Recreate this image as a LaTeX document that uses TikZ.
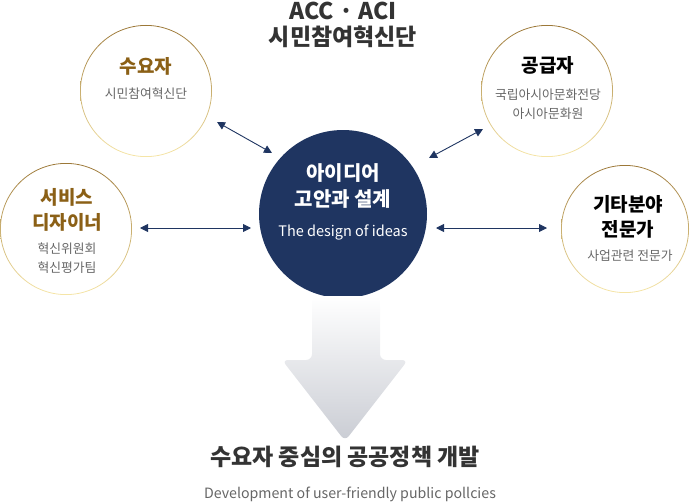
\documentclass[tikz,border=0pt]{standalone}
\usepackage{fontspec}
\setmainfont{Noto Sans CJK KR}
\usetikzlibrary{arrows.meta,positioning}
\definecolor{navy}{RGB}{31,53,97}
\definecolor{golddark}{RGB}{156,120,56}
\definecolor{goldlight}{RGB}{246,230,168}
\definecolor{goldtext}{RGB}{139,96,22}
\definecolor{subgray}{RGB}{102,102,102}
\definecolor{titlegray}{RGB}{51,51,51}
\definecolor{arrowgray}{RGB}{196,199,207}

\begin{document}
\begin{tikzpicture}[x=1pt,y=1pt,
    ring/.style={even odd rule,top color=golddark,bottom color=goldlight},
    headtext/.style={font=\fontsize{19}{25}\selectfont\bfseries,align=center},
    subtext/.style={font=\fontsize{12.8}{18.5}\selectfont,text=subgray,align=center},
    link/.style={navy,line width=0.9pt,{Triangle[width=8pt,length=8pt]}-{Triangle[width=8pt,length=8pt]}}]
    \useasboundingbox (0,0) rectangle (693,-503);

    % title
    \node[font=\fontsize{23}{26}\selectfont\bfseries,text=titlegray,align=center] (title) at (343,-25) {ACC · ACI\\시민참여혁신단};

    % outer circles
    \coordinate (demand) at (146,-91);
    \coordinate (supply) at (547,-91);
    \coordinate (service) at (66,-229);
    \coordinate (expert) at (625,-229);
    \shade[ring] (demand) circle (66) circle (65.2);
    \shade[ring] (supply) circle (66) circle (65.2);
    \shade[ring] (service) circle (66) circle (65.2);
    \shade[ring] (expert) circle (64) circle (63.2);

    \node[headtext,text=goldtext] (demand-h) at (146,-66) {수요자};
    \node[subtext] (demand-s) at (146,-94) {시민참여혁신단};
    \node[headtext,text=black] (supply-h) at (548,-65) {공급자};
    \node[subtext] (supply-s) at (548,-104) {국립아시아문화전당\\아시아문화원};
    \node[headtext,text=goldtext] (service-h) at (67,-210) {서비스\\디자이너};
    \node[subtext] (service-s) at (67,-258) {혁신위원회\\혁신평가팀};
    \node[headtext,text=black] (expert-h) at (628,-216.5) {기타분야\\전문가};
    \node[subtext] (expert-s) at (630,-256) {사업관련 전문가};

    % center circle
    \node[circle,fill=navy,minimum size=168pt,inner sep=0pt] (idea) at (343,-214) {};
    \node[font=\fontsize{20}{26.5}\selectfont\bfseries,text=white,align=center] (idea-h) at (343,-186) {아이디어\\고안과 설계};
    \node[font=\fontsize{14.5}{15}\selectfont,text=white] (idea-s) at (343,-232) {The design of ideas};

    % links
    \coordinate (demand-end) at (217,-122);
    \coordinate (idea-tl) at (272,-153);
    \coordinate (supply-end) at (483,-129);
    \coordinate (idea-tr) at (429,-158);
    \coordinate (service-end) at (140,-228);
    \coordinate (idea-l) at (251,-228);
    \coordinate (expert-end) at (547,-228);
    \coordinate (idea-r) at (436,-228);
    \draw[link] (demand-end) -- (idea-tl);
    \draw[link] (supply-end) -- (idea-tr);
    \draw[link] (service-end) -- (idea-l);
    \draw[link] (expert-end) -- (idea-r);

    % down arrow
    \shade[top color=white,middle color=arrowgray!65,bottom color=arrowgray!90,rounded corners=6]
        (312,-296) -- (312,-360) -- (282,-360) -- (345,-441) -- (408,-360) -- (380,-360) -- (380,-296) -- cycle;

    % result
    \node[font=\fontsize{23}{25}\selectfont\bfseries,text=titlegray] (result) at (345,-457) {수요자 중심의 공공정책 개발};
    \node[font=\fontsize{14.2}{15}\selectfont,text=subgray] (result-en) at (350,-494) {Development of user-friendly public pollcies};
\end{tikzpicture}
\end{document}
